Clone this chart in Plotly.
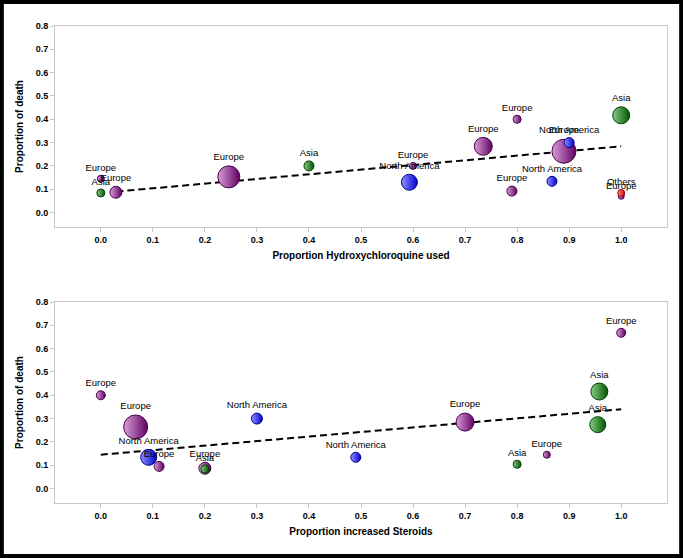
import plotly.graph_objects as go

# ---------------- data ----------------
# Top panel: proportion hydroxychloroquine used vs proportion of death
hcq_region = ["Europe", "Asia", "Europe", "Europe", "Asia", "North America", "Europe",
              "Europe", "Europe", "Europe", "North America", "Europe", "North America",
              "Asia", "Europe", "Others"]
hcq_prop = [0.0, 0.0, 0.029, 0.246, 0.40, 0.593, 0.60,
            0.735, 0.80, 0.79, 0.867, 0.89, 0.90,
            1.0, 1.0, 1.0]
hcq_death = [0.145, 0.084, 0.087, 0.153, 0.20, 0.13, 0.20,
             0.284, 0.40, 0.092, 0.134, 0.263, 0.30,
             0.417, 0.07, 0.084]
hcq_weight = [7, 8, 12, 22, 10, 16, 7,
              18, 8, 10, 10, 24, 10,
              17, 6, 7]
hcq_trend_x = [0.03, 1.0]
hcq_trend_y = [0.09, 0.284]

# Bottom panel: proportion increased steroids vs proportion of death
ster_region = ["Europe", "Europe", "North America", "North America", "Europe", "Europe",
               "Asia", "North America", "Europe", "Asia", "Europe", "Asia", "Asia", "Europe"]
ster_prop = [0.0, 0.067, 0.30, 0.092, 0.112, 0.20,
             0.20, 0.49, 0.70, 0.80, 0.857, 0.958, 0.955, 1.0]
ster_death = [0.40, 0.264, 0.30, 0.134, 0.095, 0.087,
              0.084, 0.134, 0.285, 0.104, 0.145, 0.416, 0.274, 0.668]
ster_weight = [9, 24, 11, 16, 10, 12,
               8, 10, 18, 8, 7, 17, 16, 9]
ster_trend_x = [0.0, 1.0]
ster_trend_y = [0.145, 0.34]

x_ticks = [0.0, 0.1, 0.2, 0.3, 0.4, 0.5, 0.6, 0.7, 0.8, 0.9, 1.0]
y_ticks = [0.0, 0.1, 0.2, 0.3, 0.4, 0.5, 0.6, 0.7, 0.8]

# ---------------- styling ----------------
light = {"Europe": "#d99ed9", "North America": "#9090ff", "Asia": "#88cc88", "Others": "#ff9090"}
dark = {"Europe": "#600060", "North America": "#0000d0", "Asia": "#005500", "Others": "#e00000"}
edge = {"Europe": "#4a004a", "North America": "#00008c", "Asia": "#004000", "Others": "#900000"}

FONT = "Liberation Sans, Arial, sans-serif"


def bubbles(xs, ys, ws, regions, xa, ya):
    return go.Scatter(
        x=xs, y=ys, mode="markers+text", text=regions,
        textposition="top center",
        textfont=dict(family=FONT, size=9.5, color="#000000"),
        marker=dict(
            size=ws, sizemode="diameter",
            color=[light[r] for r in regions],
            gradient=dict(type="horizontal", color=[dark[r] for r in regions]),
            line=dict(color=[edge[r] for r in regions], width=1),
            opacity=1,
        ),
        xaxis=xa, yaxis=ya, showlegend=False, hoverinfo="skip", cliponaxis=False,
    )


def trend(xs, ys, xa, ya):
    return go.Scatter(x=xs, y=ys, mode="lines",
                      line=dict(color="#000000", width=2, dash="7px,4px"),
                      xaxis=xa, yaxis=ya, showlegend=False, hoverinfo="skip")


fig = go.Figure()
fig.add_trace(trend(hcq_trend_x, hcq_trend_y, "x", "y"))
fig.add_trace(bubbles(hcq_prop, hcq_death, hcq_weight, hcq_region, "x", "y"))
fig.add_trace(trend(ster_trend_x, ster_trend_y, "x2", "y2"))
fig.add_trace(bubbles(ster_prop, ster_death, ster_weight, ster_region, "x2", "y2"))

W, H = 683, 558
ML, MR, MT, MB = 55, 16, 26, 55
plot_h = H - MT - MB
panel_h = 201
top_dom = [1 - panel_h / plot_h, 1]
bot_dom = [0, panel_h / plot_h]

axis_common = dict(showgrid=False, zeroline=False, showline=True, mirror=True,
                   linecolor="#c8c8c8", linewidth=1, ticks="outside", ticklen=4,
                   tickcolor="#c8c8c8", automargin=False,
                   tickfont=dict(family=FONT, size=9, color="#000000", weight="bold"))

xcommon = dict(axis_common, range=[-0.088, 1.088], tickvals=x_ticks, tickformat=".1f")
ycommon = dict(axis_common, range=[-0.062, 0.8], tickvals=y_ticks, tickformat=".1f")
title_font = dict(family=FONT, size=10, color="#000000", weight="bold")

fig.update_layout(
    width=W, height=H,
    margin=dict(l=ML, r=MR, t=MT, b=MB),
    paper_bgcolor="#ffffff", plot_bgcolor="#ffffff",
    xaxis=dict(xcommon, domain=[0, 1], anchor="y",
               title=dict(text="Proportion Hydroxychloroquine used", font=title_font, standoff=8)),
    yaxis=dict(ycommon, domain=top_dom, anchor="x",
               title=dict(text="Proportion of death", font=title_font, standoff=10)),
    xaxis2=dict(xcommon, domain=[0, 1], anchor="y2",
                title=dict(text="Proportion increased Steroids", font=title_font, standoff=8)),
    yaxis2=dict(ycommon, domain=bot_dom, anchor="x2",
                title=dict(text="Proportion of death", font=title_font, standoff=10)),
    shapes=[dict(type="rect", xref="paper", yref="paper",
                 x0=-ML / (W - ML - MR) + 0.003, x1=1 + MR / (W - ML - MR) - 0.003,
                 y0=-MB / plot_h + 0.004, y1=1 + MT / plot_h - 0.004,
                 line=dict(color="#000000", width=4), fillcolor="rgba(0,0,0,0)",
                 layer="above")],
)

fig.write_html(
    "out.html",
    config={"displayModeBar": False},
    post_script="document.body.style.margin='0px';document.body.style.overflow='hidden';",
)
